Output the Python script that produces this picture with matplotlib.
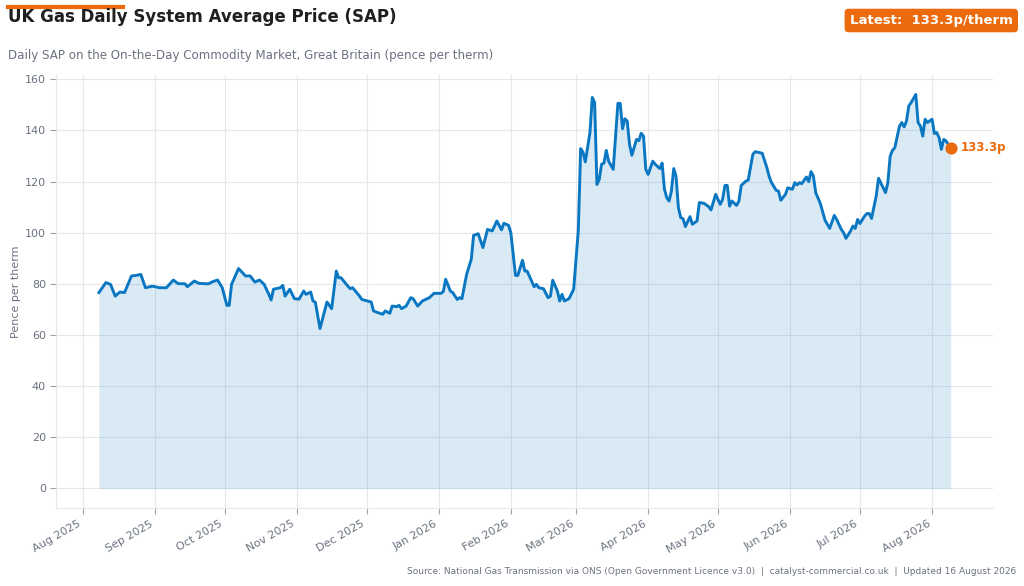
import pandas as pd
import matplotlib
matplotlib.use("Agg")
import matplotlib.pyplot as plt
import matplotlib.dates as mdates

# Daily SAP readings (pence per therm)
dates = [
    "2025-08-08", "2025-08-11", "2025-08-13", "2025-08-15", "2025-08-17", "2025-08-19",
    "2025-08-22", "2025-08-24", "2025-08-26", "2025-08-28", "2025-08-31", "2025-09-03",
    "2025-09-06", "2025-09-09", "2025-09-11", "2025-09-14", "2025-09-15", "2025-09-18",
    "2025-09-20", "2025-09-24", "2025-09-26", "2025-09-28", "2025-09-30", "2025-10-02",
    "2025-10-03", "2025-10-04", "2025-10-07", "2025-10-10", "2025-10-12", "2025-10-14",
    "2025-10-16", "2025-10-18", "2025-10-20", "2025-10-21", "2025-10-22", "2025-10-25",
    "2025-10-26", "2025-10-27", "2025-10-29", "2025-10-31", "2025-11-02", "2025-11-04",
    "2025-11-05", "2025-11-07", "2025-11-08", "2025-11-09", "2025-11-11", "2025-11-13",
    "2025-11-14", "2025-11-16", "2025-11-18", "2025-11-19", "2025-11-20", "2025-11-23",
    "2025-11-24", "2025-11-25", "2025-11-28", "2025-11-29", "2025-12-01", "2025-12-03",
    "2025-12-04", "2025-12-06", "2025-12-08", "2025-12-09", "2025-12-11", "2025-12-12",
    "2025-12-14", "2025-12-15", "2025-12-16", "2025-12-18", "2025-12-20", "2025-12-21",
    "2025-12-23", "2025-12-25", "2025-12-28", "2025-12-30", "2026-01-02", "2026-01-03",
    "2026-01-04", "2026-01-06", "2026-01-07", "2026-01-09", "2026-01-10", "2026-01-11",
    "2026-01-13", "2026-01-15", "2026-01-16", "2026-01-18", "2026-01-20", "2026-01-22",
    "2026-01-24", "2026-01-26", "2026-01-28", "2026-01-29", "2026-01-31", "2026-02-01",
    "2026-02-03", "2026-02-04", "2026-02-06", "2026-02-07", "2026-02-08", "2026-02-11",
    "2026-02-12", "2026-02-13", "2026-02-15", "2026-02-17", "2026-02-18", "2026-02-19",
    "2026-02-21", "2026-02-22", "2026-02-23", "2026-02-24", "2026-02-26", "2026-02-28",
    "2026-03-01", "2026-03-02", "2026-03-03", "2026-03-04", "2026-03-05", "2026-03-07",
    "2026-03-08", "2026-03-09", "2026-03-10", "2026-03-11", "2026-03-12", "2026-03-13",
    "2026-03-14", "2026-03-15", "2026-03-17", "2026-03-19", "2026-03-20", "2026-03-21",
    "2026-03-22", "2026-03-23", "2026-03-24", "2026-03-25", "2026-03-27", "2026-03-28",
    "2026-03-29", "2026-03-30", "2026-03-31", "2026-04-01", "2026-04-03", "2026-04-04",
    "2026-04-06", "2026-04-07", "2026-04-08", "2026-04-09", "2026-04-10", "2026-04-11",
    "2026-04-12", "2026-04-13", "2026-04-14", "2026-04-15", "2026-04-16", "2026-04-17",
    "2026-04-19", "2026-04-20", "2026-04-22", "2026-04-23", "2026-04-25", "2026-04-27",
    "2026-04-28", "2026-04-30", "2026-05-02", "2026-05-03", "2026-05-04", "2026-05-05",
    "2026-05-06", "2026-05-07", "2026-05-09", "2026-05-10", "2026-05-11", "2026-05-13",
    "2026-05-14", "2026-05-16", "2026-05-17", "2026-05-20", "2026-05-22", "2026-05-23",
    "2026-05-24", "2026-05-26", "2026-05-27", "2026-05-28", "2026-05-30", "2026-05-31",
    "2026-06-02", "2026-06-03", "2026-06-04", "2026-06-05", "2026-06-06", "2026-06-08",
    "2026-06-09", "2026-06-10", "2026-06-11", "2026-06-12", "2026-06-14", "2026-06-16",
    "2026-06-18", "2026-06-20", "2026-06-21", "2026-06-23", "2026-06-24", "2026-06-25",
    "2026-06-27", "2026-06-28", "2026-06-29", "2026-06-30", "2026-07-01", "2026-07-03",
    "2026-07-04", "2026-07-05", "2026-07-06", "2026-07-08", "2026-07-09", "2026-07-11",
    "2026-07-12", "2026-07-13", "2026-07-14", "2026-07-15", "2026-07-16", "2026-07-18",
    "2026-07-19", "2026-07-20", "2026-07-21", "2026-07-22", "2026-07-23", "2026-07-25",
    "2026-07-26", "2026-07-27", "2026-07-28", "2026-07-29", "2026-07-30", "2026-08-01",
    "2026-08-02", "2026-08-03", "2026-08-04", "2026-08-05", "2026-08-06", "2026-08-07",
    "2026-08-08", "2026-08-09",
]
sap = [
    76.6, 80.5, 79.8, 75.2, 76.8, 76.6,
    83.1, 83.3, 83.7, 78.5, 79.1, 78.5,
    78.5, 81.5, 80.1, 80.0, 78.9, 81.1,
    80.2, 80.0, 80.9, 81.5, 78.5, 71.6,
    71.6, 79.8, 86.0, 83.1, 83.1, 80.7,
    81.5, 79.8, 75.9, 73.7, 77.9, 78.5,
    79.4, 75.2, 77.9, 74.2, 74.0, 77.2,
    75.9, 76.8, 73.3, 72.8, 62.5, 69.4,
    72.9, 70.3, 85.0, 82.4, 82.4, 79.1,
    78.1, 78.5, 75.2, 73.9, 73.4, 72.9,
    69.4, 68.7, 68.1, 69.4, 68.5, 71.3,
    71.1, 71.6, 70.3, 71.3, 74.6, 74.2,
    71.3, 73.3, 74.6, 76.3, 76.3, 77.0,
    81.8, 77.2, 76.6, 73.9, 74.6, 74.2,
    83.7, 89.6, 99.0, 99.6, 94.2, 101.3,
    100.7, 104.6, 101.1, 103.7, 102.9, 100.0,
    83.3, 83.3, 89.2, 85.0, 85.0, 78.9,
    79.8, 78.5, 78.1, 74.6, 75.2, 81.4,
    77.2, 73.3, 75.9, 73.3, 74.2, 77.9,
    89.6, 101.0, 132.9, 131.5, 127.7, 139.2,
    152.9, 150.9, 118.9, 120.9, 126.8, 127.2,
    132.2, 128.0, 124.8, 150.6, 150.6, 140.7,
    144.6, 143.7, 134.6, 130.3, 136.5, 136.0,
    138.9, 137.8, 124.8, 122.8, 128.0, 126.8,
    125.1, 127.2, 117.0, 113.7, 112.4, 116.3,
    125.1, 122.0, 109.8, 105.9, 105.5, 102.4,
    106.3, 103.3, 104.6, 111.8, 111.5, 110.2,
    108.9, 115.0, 111.1, 113.1, 118.5, 118.5,
    110.4, 112.4, 110.7, 112.4, 118.5, 120.2,
    120.6, 130.7, 131.7, 131.1, 125.5, 122.0,
    119.6, 116.6, 116.3, 112.7, 115.0, 117.6,
    117.0, 119.6, 118.7, 119.6, 119.2, 121.8,
    120.0, 123.9, 122.2, 115.7, 111.4, 104.9,
    101.7, 106.8, 105.2, 101.3, 100.0, 97.8,
    100.7, 102.6, 101.7, 105.2, 103.6, 106.5,
    107.5, 107.5, 105.6, 114.4, 121.3, 117.6,
    115.7, 119.6, 130.0, 132.2, 133.3, 141.7,
    143.1, 141.4, 143.7, 149.6, 150.9, 154.1,
    143.1, 141.7, 137.8, 144.4, 143.1, 144.4,
    138.8, 139.2, 137.2, 132.6, 136.5, 135.9,
    134.5, 133.3,
]

title = "UK Gas Daily System Average Price (SAP)"
subtitle = "Daily SAP on the On-the-Day Commodity Market, Great Britain (pence per therm)"
footer = ("Source: National Gas Transmission via ONS (Open Government Licence v3.0)  |  "
          "catalyst-commercial.co.uk  |  Updated 16 August 2026")

BLUE = "#0a77c2"
ORANGE = "#ea6a0c"
GREY = "#6b7280"

df = pd.DataFrame({"date": pd.to_datetime(dates), "sap": sap})
latest = df.iloc[-1]

fig = plt.figure(figsize=(10.24, 5.86), dpi=100)
ax = fig.add_axes([0.055, 0.133, 0.915, 0.739])

ax.fill_between(df["date"], 0, df["sap"], color=BLUE, alpha=0.15, linewidth=0)
ax.plot(df["date"], df["sap"], color=BLUE, linewidth=2.1)
ax.scatter([latest["date"]], [latest["sap"]], s=60, color=ORANGE, zorder=5)
ax.annotate(f"{latest['sap']:.1f}p", (latest["date"], latest["sap"]),
            xytext=(7, 0), textcoords="offset points", va="center",
            color=ORANGE, fontsize=8.5, fontweight="bold")

ax.set_ylim(-7.7, 161.7)
ax.set_yticks(range(0, 161, 20))
ax.xaxis.set_major_locator(mdates.MonthLocator())
ax.xaxis.set_major_formatter(mdates.DateFormatter("%b %Y"))
for lab in ax.get_xticklabels():
    lab.set_rotation(30)
    lab.set_ha("right")

ax.grid(True, color="#e5e7eb", linewidth=0.8)
ax.set_axisbelow(True)
for side in ["top", "right"]:
    ax.spines[side].set_visible(False)
for side in ["left", "bottom"]:
    ax.spines[side].set_color("#e5e7eb")
ax.tick_params(axis="both", colors="#9ca3af", labelcolor=GREY, labelsize=8, length=4)
ax.set_ylabel("Pence per therm", color=GREY, fontsize=8, labelpad=3)

# header
fig.add_artist(plt.Line2D([0.008, 0.12], [0.988, 0.988], color=ORANGE, linewidth=3))
fig.text(0.008, 0.987, title, fontsize=12, fontweight="bold", color="#1f1f1f", va="top")
fig.text(0.008, 0.906, subtitle, fontsize=8.6, color=GREY, va="center")
fig.text(0.989, 0.965, "Latest:  133.3p/therm", fontsize=9.5, fontweight="bold",
         color="white", ha="right", va="center",
         bbox=dict(boxstyle="round,pad=0.4,rounding_size=0.3", fc=ORANGE, ec="none"))

fig.text(0.992, 0.024, footer, fontsize=6.5, color=GREY, ha="right", va="center")

fig.savefig("out.png", dpi=100)
